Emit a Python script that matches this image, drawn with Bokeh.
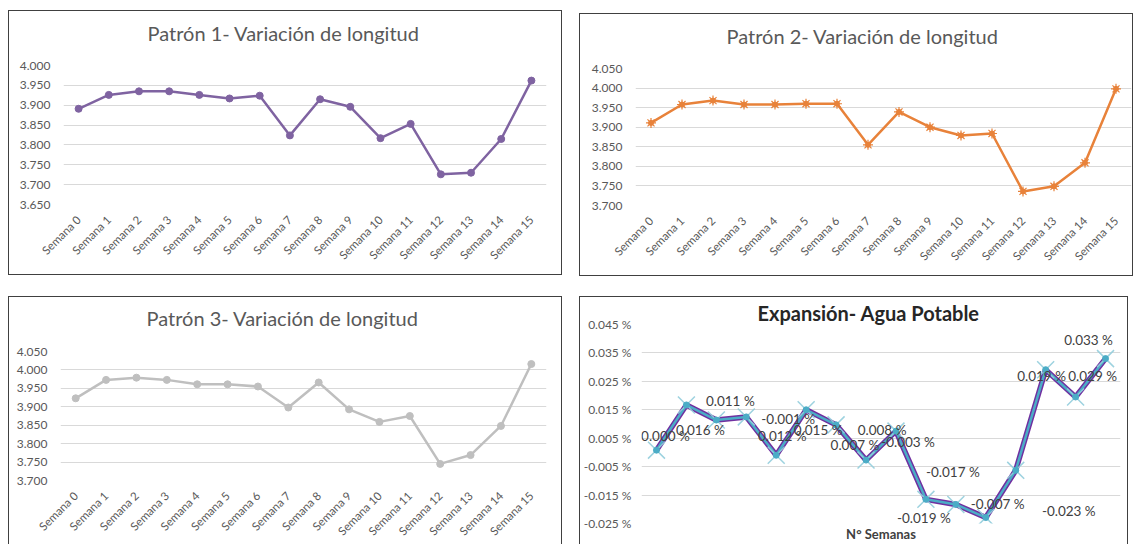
from math import pi
from bokeh.plotting import figure
from bokeh.models import (Range1d, FactorRange, FixedTicker, NumeralTickFormatter,
                          PrintfTickFormatter, ColumnDataSource, LabelSet, Spacer, Title)
from bokeh.layouts import row, column
from bokeh.core.properties import value
from bokeh.embed import file_html
from bokeh.resources import INLINE

# ---------------- data ----------------
semanas = [f"Semana {i}" for i in range(16)]

patron1 = [3.891, 3.926, 3.935, 3.935, 3.926, 3.917, 3.924, 3.824,
           3.915, 3.896, 3.817, 3.853, 3.726, 3.730, 3.815, 3.962]
patron2 = [3.911, 3.958, 3.968, 3.958, 3.958, 3.960, 3.960, 3.855,
           3.939, 3.900, 3.879, 3.884, 3.736, 3.749, 3.809, 3.998]
patron3 = [3.923, 3.973, 3.979, 3.973, 3.961, 3.961, 3.955, 3.898,
           3.966, 3.893, 3.859, 3.875, 3.745, 3.769, 3.848, 4.016]

expansion = [0.0008, 0.0167, 0.0114, 0.0125, -0.0010, 0.0150, 0.0097, -0.0027,
             0.0075, -0.0165, -0.0183, -0.0229, -0.0063, 0.0291, 0.0195, 0.0330]
expansion_labels = ["0.000 %", "0.016 %", "0.011 %", "0.012 %", "-0.001 %", "0.015 %",
                    "0.008 %", "-0.003 %", "0.007 %", "-0.017 %", "-0.019 %", "-0.023 %",
                    "-0.007 %", "0.029 %", "0.019 %", "0.033 %"]

ticks_p1 = [3.650, 3.700, 3.750, 3.800, 3.850, 3.900, 3.950, 4.000]
ticks_p23 = [3.700, 3.750, 3.800, 3.850, 3.900, 3.950, 4.000, 4.050]
ticks_exp = [-0.025, -0.015, -0.005, 0.005, 0.015, 0.025, 0.035, 0.045]

# label placement (screen px, like the hand-moved labels of the original)
label_dx = [9, 14, 14, 36, 12, 12, 46, 42, -41, 27, -32, 83, -18, 47, -34, -17]
label_dy = [-14, 25, -19, 19, -36, 20, 5, -18, 14, -27, 14, -7, 34, 6, -21, -19]

FONT = "Lato"
TICK_COLOR = "#595959"
BORDER = "1px solid #404040"


def make_fig(w, h, yr, ticks, fmt, ml, mr, mt, mb, styles):
    p = figure(width=w, height=h, x_range=FactorRange(factors=semanas, range_padding=0),
               y_range=Range1d(*yr), output_backend="svg", toolbar_location=None,
               min_border_left=ml, min_border_right=mr, min_border_top=mt,
               min_border_bottom=mb)
    p.styles = styles
    p.outline_line_color = None
    p.background_fill_color = "white"
    p.border_fill_color = "white"
    p.xgrid.visible = False
    p.ygrid.grid_line_color = "#D9D9D9"
    p.ygrid.grid_line_width = 1
    yax = p.yaxis[0]
    yax.ticker = FixedTicker(ticks=ticks)
    yax.formatter = fmt
    yax.axis_line_color = None
    yax.major_tick_line_color = None
    yax.minor_tick_line_color = None
    yax.major_tick_out = 0
    yax.major_tick_in = 0
    yax.major_label_text_font = FONT
    yax.major_label_text_font_size = "12px"
    yax.major_label_text_color = TICK_COLOR
    yax.major_label_standoff = 13
    xax = p.xaxis[0]
    xax.axis_line_color = None
    xax.major_tick_line_color = None
    xax.minor_tick_line_color = None
    xax.major_tick_out = 0
    xax.major_tick_in = 0
    xax.major_label_text_font = FONT
    xax.major_label_text_font_size = "11.5px"
    xax.major_label_text_color = TICK_COLOR
    xax.major_label_orientation = pi / 4
    xax.major_label_standoff = 13
    return p


def set_title(p, text, offset, gap, size="20px", bold=False, valign="top", standoff=0,
              color="#595959"):
    p.title.text = text
    p.title.align = "left"
    p.title.offset = offset
    p.title.text_font = FONT
    p.title.text_font_size = size
    p.title.text_font_style = "bold" if bold else "normal"
    p.title.text_color = color
    p.title.vertical_align = valign
    p.title.standoff = standoff
    if gap:
        # invisible spacer between the title and the plotting area
        p.add_layout(Title(text=" ", text_font_size="1px", standoff=gap), "above")


def pattern_panel(w, h, yr, ticks, vals, color, marker, ml, mr, mt, mb, styles):
    p = make_fig(w, h, yr, ticks, NumeralTickFormatter(format="0.000"), ml, mr, mt, mb, styles)
    src = ColumnDataSource(dict(x=semanas, y=vals))
    p.line("x", "y", source=src, line_color=color, line_width=2.5)
    if marker == "asterisk":
        p.scatter("x", "y", source=src, marker="asterisk", size=10, line_color=color,
                  line_width=1.2)
        p.scatter("x", "y", source=src, marker="circle", size=5, fill_color=color,
                  line_color=color)
    else:
        p.scatter("x", "y", source=src, marker="circle", size=7, fill_color=color,
                  line_color=color)
    return p


full = {"border": BORDER, "box-sizing": "content-box"}
open_bottom = {"border-top": BORDER, "border-left": BORDER, "border-right": BORDER,
               "box-sizing": "content-box"}

p1 = pattern_panel(552, 263, (3.65, 4.0), ticks_p1, patron1, "#7F63A1", "circle",
                   54, 17, 54, 72, full)
set_title(p1, "Patrón 1- Variación de longitud", 84, 16)

p2 = pattern_panel(552, 261, (3.70, 4.05), ticks_p23, patron2, "#E8823A", "asterisk",
                   55, 3, 54, 72, full)
set_title(p2, "Patrón 2- Variación de longitud", 91, 16)

p3 = pattern_panel(552, 247, (3.70, 4.05), ticks_p23, patron3, "#BFBFBF", "circle",
                   51, 17, 54, 65, open_bottom)
set_title(p3, "Patrón 3- Variación de longitud", 86, 17)

# ---- expansion panel ----
p4 = make_fig(547, 247, (-0.025, 0.045), ticks_exp, PrintfTickFormatter(format="%.3f %%"),
              61, 9, 27, 22, open_bottom)
p4.yaxis[0].major_label_text_font_size = "12px"
p4.yaxis[0].major_label_standoff = 10
p4.xaxis.visible = False
p4.add_layout(Title(text="N° Semanas", align="center", vertical_align="top", standoff=4,
                    text_font=FONT, text_font_size="13px", text_font_style="bold",
                    text_color="#404040"), "below")
set_title(p4, "Expansión- Agua Potable", 116, 0, size="20px", bold=True, valign="bottom",
          standoff=0, color="#262626")

src4 = ColumnDataSource(dict(x=semanas, y=expansion, txt=expansion_labels,
                             dx=label_dx, dy=[-d for d in label_dy]))
p4.line("x", "y", source=src4, line_color="#7030A0", line_width=5.5)
p4.line("x", "y", source=src4, line_color="#4BACC6", line_width=2.5)
p4.scatter("x", "y", source=src4, marker="x", size=24, line_color="#92CDDC",
           line_width=1.5, line_alpha=0.9)
p4.scatter("x", "y", source=src4, marker="circle", size=6, fill_color="#4BACC6",
           line_color="#4BACC6")
labels = LabelSet(x="x", y="y", text="txt", source=src4, x_offset="dx", y_offset="dy",
                  text_align="center", text_baseline="middle", text_font=value(FONT),
                  text_font_size="13.5px", text_color="#404040")
p4.add_layout(labels)

# each figure wrapped on its own so that plot frames are not aligned to each other
left_col = column(Spacer(width=554, height=10), column(p1), Spacer(width=554, height=21),
                  column(p3))
right_col = column(Spacer(width=554, height=13), column(p2), Spacer(width=554, height=20),
                   column(p4))
layout = row(Spacer(width=8, height=10), left_col, Spacer(width=17, height=10), right_col)

open("out.html", "w").write(file_html(layout, INLINE))
